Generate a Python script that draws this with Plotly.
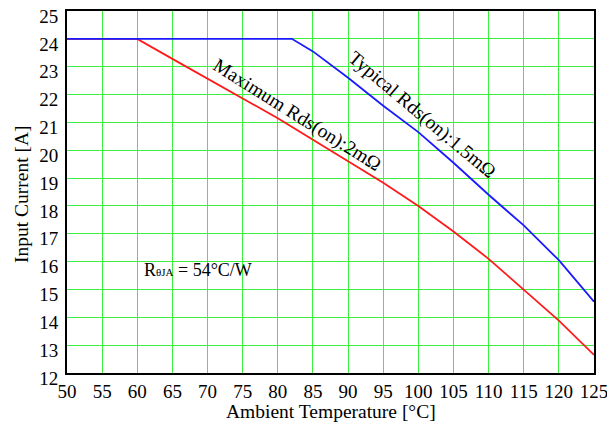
import plotly.graph_objects as go

# Maximum Rds(on) = 2 mOhm (red)
temp_max = [50, 55, 60, 65, 70, 75, 80, 85, 90, 95, 100, 105, 110, 115, 120, 125]
curr_max = [24, 24, 24, 23.28, 22.57, 21.85, 21.15, 20.38, 19.6, 18.83, 18.0, 17.08, 16.1, 15.0, 13.88, 12.65]

# Typical Rds(on) = 1.5 mOhm (blue)
temp_typ = [50, 55, 60, 65, 70, 75, 80, 82, 85, 90, 95, 100, 105, 110, 115, 120, 125]
curr_typ = [24, 24, 24, 24, 24, 24, 24, 24, 23.55, 22.6, 21.6, 20.65, 19.55, 18.4, 17.3, 16.05, 14.56]

x_ticks = list(range(50, 126, 5))
y_ticks = list(range(12, 26, 1))

FONT = "Liberation Serif, Times New Roman, serif"
GRID = "#3ef03e"

fig = go.Figure()
fig.add_trace(go.Scatter(x=temp_max, y=curr_max, mode="lines",
                         line=dict(color="#ff1a1a", width=1.8), showlegend=False))
fig.add_trace(go.Scatter(x=temp_typ, y=curr_typ, mode="lines",
                         line=dict(color="#1a1aff", width=1.8), showlegend=False))

fig.add_annotation(x=82.7, y=21.25, text="Maximum Rds(on):2mΩ", showarrow=False,
                   textangle=32, font=dict(family=FONT, size=19.5, color="black"))
fig.add_annotation(x=100.5, y=21.25, text="Typical Rds(on):1.5mΩ", showarrow=False,
                   textangle=40, font=dict(family=FONT, size=19.5, color="black"))
fig.add_annotation(x=68.6, y=15.7,
                   text='R<span style="font-size:11px">θJA</span> = 54°C/W',
                   showarrow=False, font=dict(family=FONT, size=18, color="black"))

# axis titles
fig.add_annotation(xref="paper", yref="paper", x=0.5, y=-0.105, yanchor="middle",
                   text="Ambient Temperature [°C]", showarrow=False,
                   font=dict(family=FONT, size=19.5, color="black"))
fig.add_annotation(xref="paper", yref="paper", x=-0.085, y=0.495, xanchor="center",
                   yanchor="middle", textangle=-90,
                   text="Input Current [A]", showarrow=False,
                   font=dict(family=FONT, size=19.5, color="black"))

fig.update_xaxes(range=[50, 125], tickvals=x_ticks, ticktext=[str(v) for v in x_ticks],
                 showgrid=True, gridcolor=GRID, gridwidth=1.2,
                 showline=True, linecolor="black", linewidth=2, mirror=True,
                 ticks="", zeroline=False, automargin=False, ticklabeloverflow="allow",
                 tickfont=dict(family=FONT, size=19, color="black"))
fig.update_yaxes(range=[12, 25], tickvals=y_ticks, ticktext=[str(v) for v in y_ticks],
                 showgrid=True, gridcolor=GRID, gridwidth=1.2,
                 showline=True, linecolor="black", linewidth=2, mirror=True,
                 ticks="", zeroline=False, automargin=False, ticklabelstandoff=3,
                 ticklabeloverflow="allow", ticklabelshift=5,
                 tickfont=dict(family=FONT, size=19, color="black"))

fig.update_layout(width=615, height=427, paper_bgcolor="white", plot_bgcolor="white",
                  margin=dict(l=59, r=29, t=3, b=62), showlegend=False)

fig.write_html("out.html")
